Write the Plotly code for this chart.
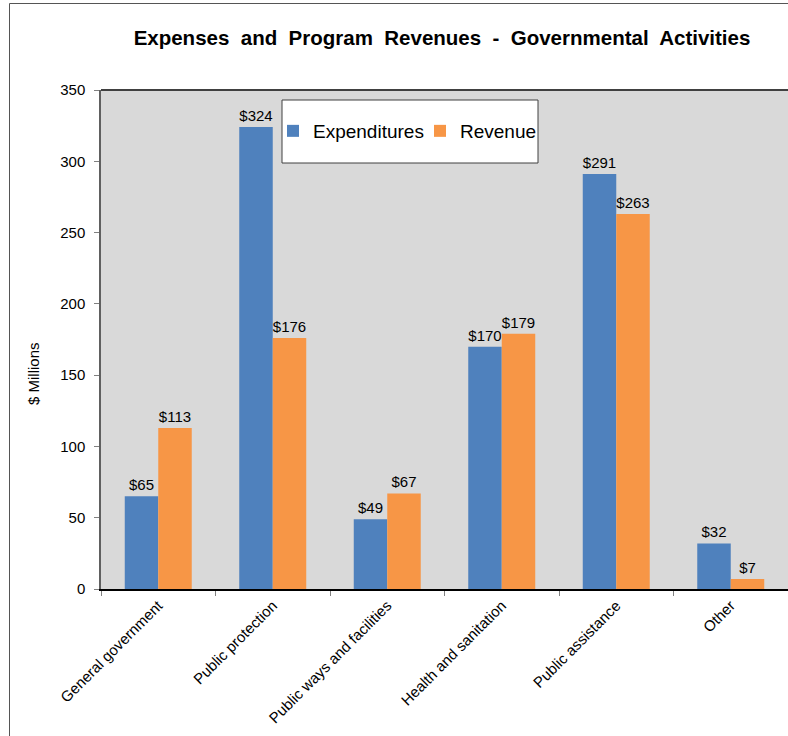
import plotly.graph_objects as go

categories = ["General government", "Public protection", "Public ways and facilities",
              "Health and sanitation", "Public assistance", "Other"]
expenditures = [65, 324, 49, 170, 291, 32]
revenue = [113, 176, 67, 179, 263, 7]
y_ticks = [0, 50, 100, 150, 200, 250, 300, 350]

W, H = 788, 736
L, R, T, B = 101, 0, 90, 147
pw = W - L - R
ph = H - T - B

def px_x(x):
    return (x - L) / pw

def px_y(y):
    return (H - B - y) / ph

BLUE = "#4f81bd"
ORANGE = "#f79646"
FONT = "Arial, Liberation Sans, sans-serif"

fig = go.Figure()
fig.add_trace(go.Bar(
    x=categories, y=expenditures, name="Expenditures",
    marker=dict(color=BLUE, line=dict(width=0)),
    text=[f"${v}" for v in expenditures], textposition="outside",
    textfont=dict(size=15, color="#000000", family=FONT), cliponaxis=False,
))
fig.add_trace(go.Bar(
    x=categories, y=revenue, name="Revenue",
    marker=dict(color=ORANGE, line=dict(width=0)),
    text=[f"${v}" for v in revenue], textposition="outside",
    textfont=dict(size=15, color="#000000", family=FONT), cliponaxis=False,
))

shapes = [
    # legend box
    dict(type="rect", xref="paper", yref="paper",
         x0=px_x(282), x1=px_x(538), y0=px_y(163), y1=px_y(100),
         fillcolor="white", line=dict(color="#404040", width=1), layer="above"),
    # plot area top border
    dict(type="line", xref="paper", yref="paper", x0=0, x1=1, y0=1, y1=1,
         line=dict(color="#404040", width=2)),
    # outer frame left and top
    dict(type="line", xref="paper", yref="paper",
         x0=px_x(9.5), x1=px_x(9.5), y0=px_y(3.5), y1=px_y(740),
         line=dict(color="#555555", width=1)),
    dict(type="line", xref="paper", yref="paper",
         x0=px_x(9.5), x1=px_x(800), y0=px_y(3.5), y1=px_y(3.5),
         line=dict(color="#555555", width=1)),
]

fig.update_layout(
    width=W, height=H,
    margin=dict(l=L, r=R, t=T, b=B, pad=0),
    paper_bgcolor="white", plot_bgcolor="#d9d9d9",
    font=dict(family=FONT, color="#000000"),
    barmode="group", bargap=0.415, bargroupgap=0,
    title=dict(text="<b>Expenses  and  Program  Revenues  -  Governmental  Activities</b>",
               xref="container", x=442 / W, xanchor="center",
               y=1 - 38 / H, yanchor="middle",
               font=dict(size=20.5, family=FONT, color="#000000")),
    showlegend=True,
    legend=dict(orientation="h", x=px_x(273), xanchor="left",
                y=px_y(131), yanchor="middle",
                bgcolor="rgba(0,0,0,0)", borderwidth=0,
                font=dict(size=19, family=FONT, color="#000000"),
                itemwidth=30, entrywidth=102, entrywidthmode="pixels",
                traceorder="normal"),
    shapes=shapes,
    annotations=[
        dict(text="$ Millions", xref="paper", yref="paper",
             x=px_x(33), y=px_y(374), textangle=-90, showarrow=False,
             font=dict(size=15, family=FONT, color="#000000"),
             xanchor="center", yanchor="middle"),
    ],
)

fig.update_xaxes(
    type="category", tickson="boundaries", ticks="outside", ticklen=5,
    tickcolor="#808080", tickangle=-45,
    tickfont=dict(size=15, family=FONT, color="#000000"),
    showline=True, linecolor="#000000", linewidth=2,
    showgrid=False, zeroline=False,
)
fig.update_yaxes(
    range=[0, 350], tickvals=y_ticks, ticks="outside", ticklen=5,
    tickcolor="#808080", tickfont=dict(size=15, family=FONT, color="#000000"),
    showline=True, linecolor="#606060", linewidth=1.5,
    showgrid=False, zeroline=False, ticklabelstandoff=6,
)

fig.write_html("out.html")
